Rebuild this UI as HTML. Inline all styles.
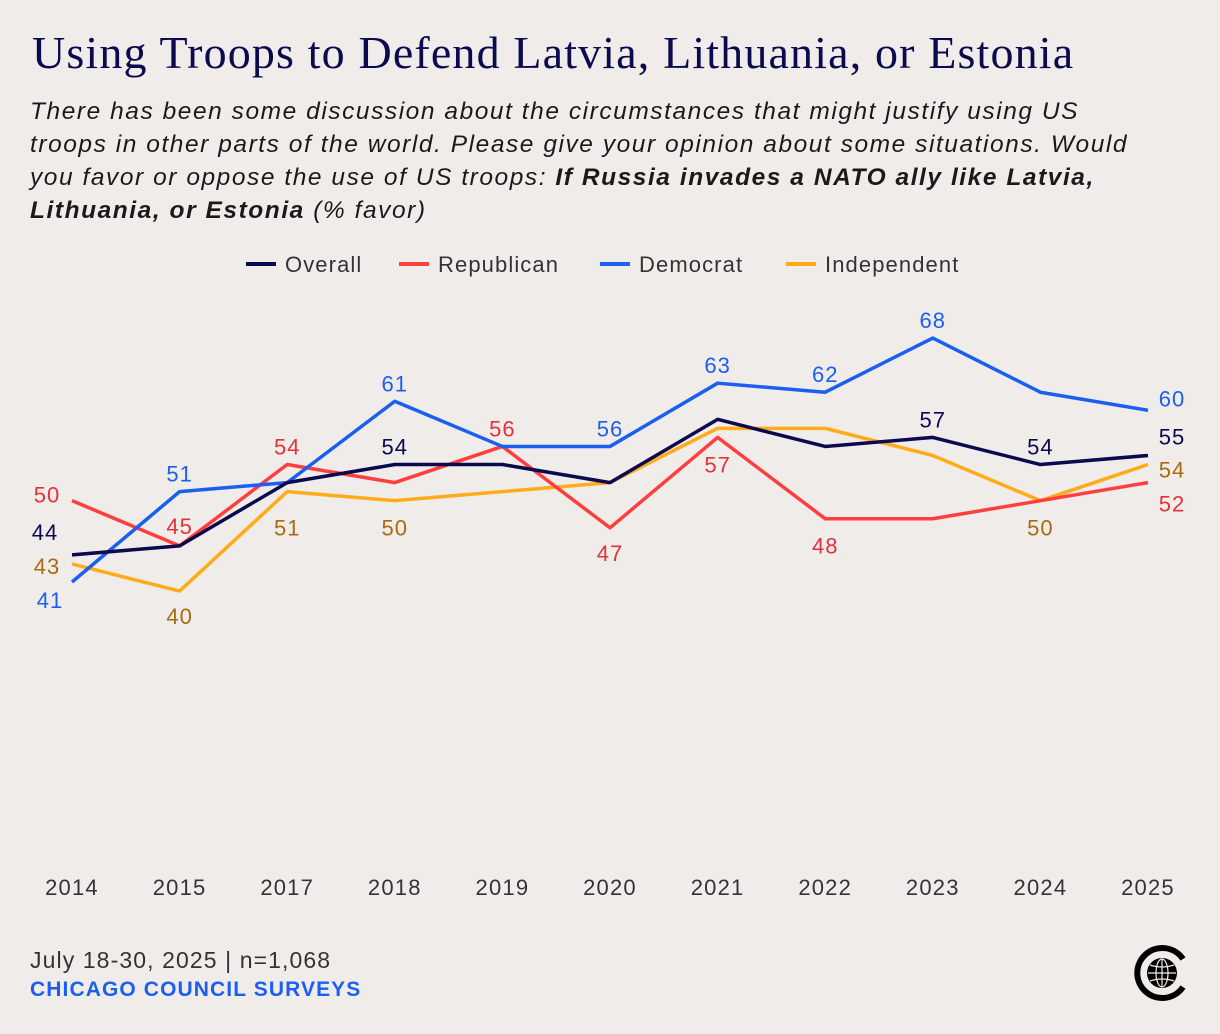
<!DOCTYPE html>
<html><head><meta charset="utf-8"><style>
body{margin:0;background:#f0ecea;width:1220px;height:1034px;overflow:hidden;font-family:"Liberation Sans",sans-serif}
.t{position:absolute;left:32px;top:26px;font-family:"Liberation Serif",serif;font-size:46px;color:#0b0a4e;letter-spacing:1.15px;white-space:nowrap}
.s{position:absolute;left:30px;top:95px;width:1190px;font-style:italic;font-size:24.5px;line-height:33px;color:#1a1a1a;letter-spacing:1.55px;white-space:nowrap}
.f1{position:absolute;left:30px;top:947px;font-size:23px;color:#333;letter-spacing:1.1px}
.f2{position:absolute;left:30px;top:978px;font-size:21px;font-weight:bold;color:#1a5ff0;letter-spacing:1.1px}
</style></head><body>
<div class="t">Using Troops to Defend Latvia, Lithuania, or Estonia</div>
<div class="s">There has been some discussion about the circumstances that might justify using US<br>troops in other parts of the world. Please give your opinion about some situations. Would<br>you favor or oppose the use of US troops: <b>If Russia invades a NATO ally like Latvia,<br>Lithuania, or Estonia</b> (% favor)</div>
<svg id="c" width="1220" height="1034" style="position:absolute;left:0;top:0"></svg>
<div class="f1">July 18-30, 2025 | n=1,068</div>
<div class="f2">CHICAGO COUNCIL SURVEYS</div>
<svg width="60" height="60" style="position:absolute;left:1131px;top:943px" viewBox="0 0 60 60">
<path d="M52 16 A25 25 0 1 0 52 44" fill="none" stroke="#000" stroke-width="6"/>
<circle cx="31" cy="30" r="15" fill="#000"/>
<g fill="none" stroke="#f0ecea" stroke-width="1.2"><ellipse cx="31" cy="30" rx="6" ry="14"/><line x1="17" y1="30" x2="45" y2="30"/><line x1="31" y1="16" x2="31" y2="44"/><path d="M19 22 Q31 26 43 22 M19 38 Q31 34 43 38"/></g>
</svg>
<script>
const years=["2014","2015","2017","2018","2019","2020","2021","2022","2023","2024","2025"];
const seriesNames=["Overall","Republican","Democrat","Independent"];
const overall=[44,45,52,54,54,52,59,56,57,54,55];
const republican=[50,45,54,52,56,47,57,48,48,50,52];
const democrat=[41,51,52,61,56,56,63,62,68,62,60];
const independent=[43,40,51,50,51,52,58,58,55,50,54];
const lineColors=["#0b0a4e","#ff3e3e","#1a5ff0","#ffab1a"];
const textColors=["#0b0a4e","#e8303a","#1a5ff0","#a86b10"];
// labelled points: [yearIndex, dx, dy]
const labelsOverall=[[0,-27,-23],[3,0,-18],[8,0,-18],[9,0,-18],[10,24,-19]];
const labelsRep=[[0,-25,-6],[1,0,-20],[2,0,-18],[4,0,-18],[5,0,25],[6,0,27],[7,0,27],[10,24,21]];
const labelsDem=[[0,-22,18],[1,0,-18],[3,0,-18],[5,0,-18],[6,0,-18],[7,0,-18],[8,0,-18],[10,24,-12]];
const labelsInd=[[0,-25,2],[1,0,25],[2,0,36],[3,0,27],[9,0,27],[10,24,5]];
const data=[overall,republican,democrat,independent];
const labels=[labelsOverall,labelsRep,labelsDem,labelsInd];
const svg=document.getElementById('c');const NS='http://www.w3.org/2000/svg';
const x=i=>72+i*(1076/(years.length-1));
const y=v=>582-(v-41)*9.037;
function mk(t,a){const e=document.createElementNS(NS,t);for(const k in a)e.setAttribute(k,a[k]);svg.appendChild(e);return e;}
years.forEach((yr,i)=>{const e=mk('text',{x:x(i),y:895,'text-anchor':'middle','font-size':22,fill:'#333','font-family':'Liberation Sans','letter-spacing':1.2});e.textContent=yr;

});
const legX=[246,399,600,786];
seriesNames.forEach((n,s)=>{const l=mk('line',{x1:legX[s],y1:264,x2:legX[s]+30,y2:264,stroke:lineColors[s],'stroke-width':4});


const t=mk('text',{x:legX[s]+39,y:272,'font-size':22,fill:'#333','font-family':'Liberation Sans','letter-spacing':1.1});t.textContent=n;

});
[3,1,2,0].forEach(s=>{const p=mk('polyline',{points:data[s].map((v,i)=>x(i)+','+y(v)).join(' '),fill:'none',stroke:lineColors[s],'stroke-width':3.5,'stroke-linejoin':'round'});

});
labels.forEach((arr,s)=>arr.forEach(([i,dx,dy])=>{const t=mk('text',{x:x(i)+dx,y:y(data[s][i])+dy+8,'text-anchor':'middle','font-size':22,fill:textColors[s],'font-family':'Liberation Sans','letter-spacing':1});t.textContent=data[s][i];

}));
</script>
</body></html>
